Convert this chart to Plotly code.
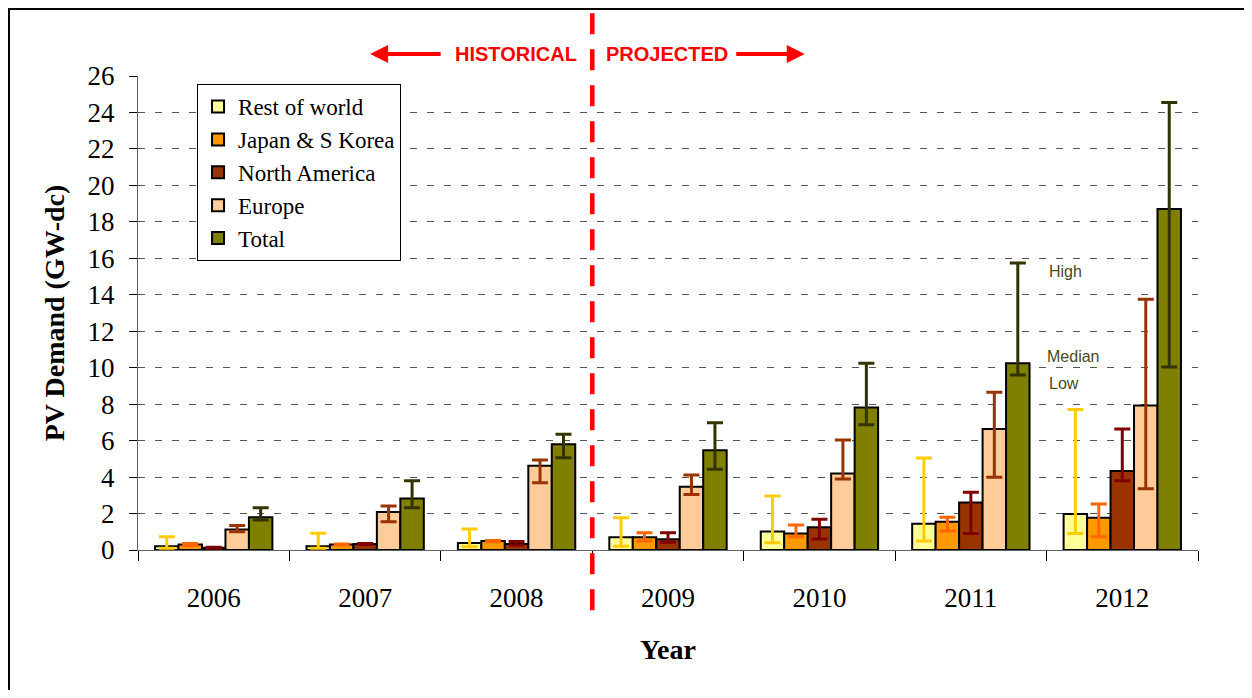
import plotly.graph_objects as go

years = ["2006", "2007", "2008", "2009", "2010", "2011", "2012"]

row_med = [0.20, 0.20, 0.38, 0.70, 1.02, 1.44, 1.97]
row_high = [0.73, 0.92, 1.15, 1.77, 2.96, 5.05, 7.70]
row_low = [0.10, 0.10, 0.18, 0.20, 0.40, 0.49, 0.91]

jpn_med = [0.30, 0.30, 0.49, 0.70, 0.91, 1.55, 1.77]
jpn_high = [0.35, 0.33, 0.52, 0.95, 1.37, 1.79, 2.52]
jpn_low = [0.25, 0.27, 0.45, 0.49, 0.73, 1.04, 0.73]

na_med = [0.13, 0.33, 0.33, 0.59, 1.25, 2.60, 4.33]
na_high = [0.15, 0.36, 0.47, 0.95, 1.68, 3.17, 6.64]
na_low = [0.10, 0.30, 0.28, 0.42, 0.60, 0.91, 3.80]

eur_med = [1.13, 2.08, 4.62, 3.47, 4.19, 6.64, 7.92]
eur_high = [1.35, 2.41, 4.94, 4.11, 6.03, 8.65, 13.75]
eur_low = [1.00, 1.55, 3.69, 3.05, 3.90, 3.99, 3.36]

tot_med = [1.79, 2.83, 5.80, 5.47, 7.81, 10.24, 18.70]
tot_high = [2.32, 3.80, 6.35, 6.98, 10.24, 15.74, 24.54]
tot_low = [1.65, 2.32, 5.06, 4.43, 6.87, 9.60, 10.04]

series = [
    ("Rest of world", row_med, row_high, row_low, "#FFFF99", "#FFCC00"),
    ("Japan & S Korea", jpn_med, jpn_high, jpn_low, "#FF9900", "#FF6600"),
    ("North America", na_med, na_high, na_low, "#993300", "#800000"),
    ("Europe", eur_med, eur_high, eur_low, "#FFCC99", "#993300"),
    ("Total", tot_med, tot_high, tot_low, "#808000", "#333300"),
]

SERIF = "Liberation Serif, Times New Roman, serif"
SANS = "Liberation Sans, Arial, sans-serif"

fig = go.Figure()
for name, med, hi, lo, fill, ecol in series:
    fig.add_trace(go.Bar(
        name=name, x=years, y=med,
        marker=dict(color=fill, line=dict(color="black", width=2)),
        error_y=dict(
            type="data", symmetric=False,
            array=[h - m for h, m in zip(hi, med)],
            arrayminus=[m - l for m, l in zip(med, lo)],
            color=ecol, thickness=3, width=8,
        ),
    ))

fig.update_layout(
    width=1236, height=682,
    margin=dict(l=130, r=46, t=68, b=140),
    paper_bgcolor="white", plot_bgcolor="white",
    barmode="group", bargap=0.225, bargroupgap=0,
    showlegend=True,
    legend=dict(
        x=0.0557, y=0.983, xanchor="left", yanchor="top",
        bgcolor="white", bordercolor="black", borderwidth=1,
        font=dict(family=SERIF, size=23, color="black"),
        tracegroupgap=0, itemwidth=30,
    ),
    xaxis=dict(
        type="category",
        showline=True, linecolor="#606060", linewidth=1,
        ticks="outside", tickson="boundaries", ticklen=10, tickcolor="black",
        tickfont=dict(family=SERIF, size=27, color="black"),
        ticklabelstandoff=24,
        showgrid=False,
        title=dict(text="<b>Year</b>", font=dict(family=SERIF, size=28, color="black"), standoff=26),
    ),
    yaxis=dict(
        range=[0, 26], tickvals=list(range(0, 27, 2)),
        showline=True, linecolor="#606060", linewidth=1,
        ticks="outside", ticklen=8, tickcolor="black",
        tickfont=dict(family=SERIF, size=27, color="black"),
        ticklabelstandoff=9,
        showgrid=True, gridcolor="#555555", gridwidth=1, griddash="7px,10px",
        zeroline=False,
        title=dict(text="<b>PV Demand (GW-dc)</b>", font=dict(family=SERIF, size=28, color="black"), standoff=14),
    ),
)

# outer border (only left and top edges are visible in the frame)
fig.add_shape(type="path", xref="paper", yref="paper",
              path="M -0.1217,-0.4 L -0.1217,1.1414 L 1.1,1.1414",
              line=dict(color="black", width=2), layer="above")

# historical / projected divider
fig.add_shape(type="line", xref="x", yref="paper", x0=2.5, x1=2.5, y0=-0.127, y1=1.135,
              line=dict(color="#FF0000", width=4.5, dash="21px,15px"), layer="above")

red_font = dict(family=SANS, size=20, color="#FF0000")
fig.add_annotation(xref="paper", yref="paper", x=0.357, y=1.0464, text="<b>HISTORICAL</b>",
                   showarrow=False, font=red_font, xanchor="center", yanchor="middle")
fig.add_annotation(xref="paper", yref="paper", x=0.499, y=1.0464, text="<b>PROJECTED</b>",
                   showarrow=False, font=red_font, xanchor="center", yanchor="middle")
fig.add_annotation(xref="paper", yref="paper", x=0.219, y=1.0464, text="",
                   showarrow=True, ax=72, ay=0, arrowhead=2, arrowsize=0.9,
                   arrowwidth=4, arrowcolor="#FF0000", standoff=0)
fig.add_annotation(xref="paper", yref="paper", x=0.629, y=1.0464, text="",
                   showarrow=True, ax=-70, ay=0, arrowhead=2, arrowsize=0.9,
                   arrowwidth=4, arrowcolor="#FF0000", standoff=0)

lab_font = dict(family=SANS, size=16, color="#4A4A20")
for txt, xx, yy in [("High", 0.8575, 0.5886), ("Median", 0.8557, 0.409), ("Low", 0.8575, 0.352)]:
    fig.add_annotation(xref="paper", yref="paper", x=xx, y=yy, text=txt, showarrow=False,
                       font=lab_font, xanchor="left", yanchor="middle")

fig.write_html("out.html")
